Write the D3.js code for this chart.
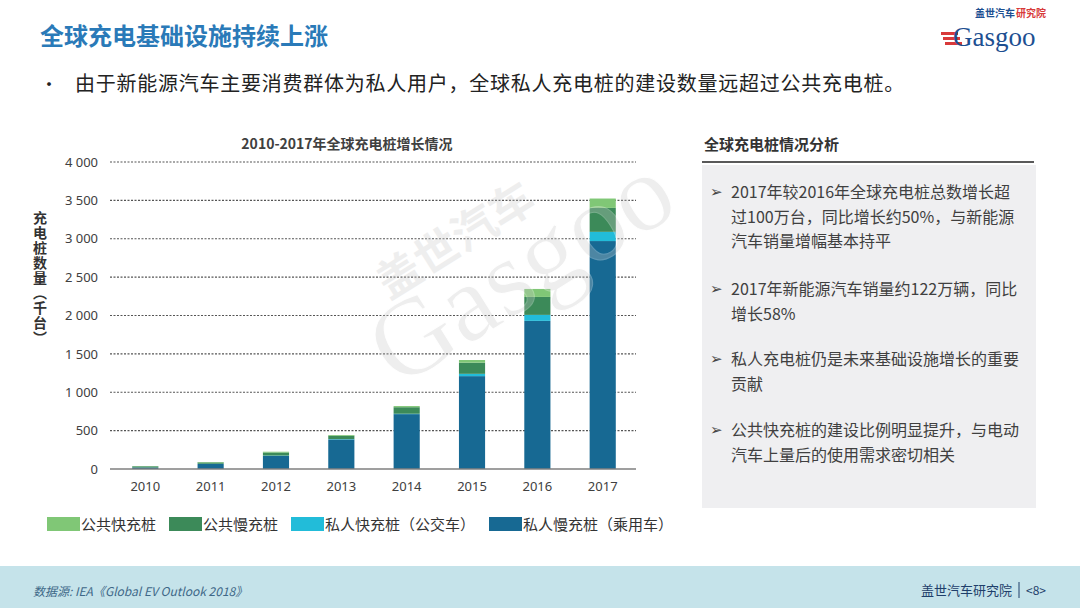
<!DOCTYPE html>
<html>
<head>
<meta charset="utf-8">
<script src="https://cdn.jsdelivr.net/npm/d3@7/dist/d3.min.js"></script>
<style>
  html, body { margin: 0; padding: 0; background: #fff; }
  svg { display: block; font-family: "Noto Sans CJK SC", "Noto Sans", sans-serif; }
</style>
</head>
<body>
<svg id="c" width="1080" height="608"></svg>
<script>
// ---- data (thousand units) ----
const years = ["2010", "2011", "2012", "2013", "2014", "2015", "2016", "2017"];
const privateSlow = [20, 65, 170, 385, 715, 1210, 1930, 2970];
const privateFast = [0, 3, 5, 5, 5, 30, 78, 120];
const publicSlow = [15, 18, 40, 43, 85, 145, 234, 312];
const publicFast = [3, 5, 10, 10, 15, 35, 104, 122];
const seriesNames = ["公共快充桩", "公共慢充桩", "私人快充桩（公交车）", "私人慢充桩（乘用车）"];
const yTicks = [0, 500, 1000, 1500, 2000, 2500, 3000, 3500, 4000];
const bullets = [
  ["2017年较2016年全球充电桩总数增长超", "过100万台，同比增长约50%，与新能源", "汽车销量增幅基本持平"],
  ["2017年新能源汽车销量约122万辆，同比", "增长58%"],
  ["私人充电桩仍是未来基础设施增长的重要", "贡献"],
  ["公共快充桩的建设比例明显提升，与电动", "汽车上量后的使用需求密切相关"]
];

const colors = {
  privateSlow: "#176993",
  privateFast: "#22bcd9",
  publicSlow: "#3c8a59",
  publicFast: "#80c776"
};

const svg = d3.select("#c");

// ---- header ----
svg.append("text").attr("x", 40).attr("y", 45)
  .attr("font-size", 24).attr("font-weight", "bold").attr("fill", "#2a7ab8")
  .text("全球充电基础设施持续上涨");

svg.append("text").attr("x", 40).attr("y", 91).attr("font-size", 18).attr("fill", "#222").text("•");
svg.append("text").attr("x", 75).attr("y", 91).attr("font-size", 20).attr("letter-spacing", 0.75).attr("fill", "#222")
  .text("由于新能源汽车主要消费群体为私人用户，全球私人充电桩的建设数量远超过公共充电桩。");

// logo
const logo = svg.append("g");
[0, 1, 2].forEach(i => {
  logo.append("rect").attr("x", 941 + i * 2).attr("y", 32 + i * 5).attr("width", 17).attr("height", 3).attr("fill", "#d83a3a");
});
logo.append("text").attr("x", 953).attr("y", 46).attr("font-family", "Liberation Serif, serif")
  .attr("font-size", 27).attr("fill", "#1d4f91").text("Gasgoo");
logo.append("text").attr("x", 975).attr("y", 17).attr("font-size", 10).attr("font-weight", "bold").attr("fill", "#1d4f91").text("盖世汽车");
logo.append("text").attr("x", 1016).attr("y", 17).attr("font-size", 10).attr("font-weight", "bold").attr("fill", "#d83a3a").text("研究院");

// ---- chart ----
const x = d3.scaleBand().domain(years).range([110, 638]).paddingInner(0.6).paddingOuter(0.34);
const y = d3.scaleLinear().domain([0, 4000]).range([469, 162]);

svg.append("text").attr("x", 347).attr("y", 149).attr("text-anchor", "middle")
  .attr("font-size", 14).attr("font-weight", "bold").attr("fill", "#404040")
  .text("2010-2017年全球充电桩增长情况");

// grid
const grid = svg.append("g");
yTicks.filter(t => t > 0).forEach(t => {
  grid.append("line").attr("x1", 110).attr("x2", 636).attr("y1", y(t)).attr("y2", y(t))
    .attr("stroke", "#555").attr("stroke-width", 1.2).attr("stroke-dasharray", "2,1.5");
});

// y axis labels
const fmt = v => d3.format(",")(v).replace(/,/g, " ");
const yAxis = d3.axisLeft(y).tickValues(yTicks).tickFormat(fmt).tickSize(0).tickPadding(0);
const yg = svg.append("g").attr("transform", "translate(98,0)").call(yAxis);
yg.select(".domain").remove();
yg.selectAll("text").attr("font-size", 13).attr("fill", "#404040").attr("font-family", "Noto Sans, sans-serif");

// y title vertical (one text, vertical writing mode)
svg.append("text").attr("x", 40).attr("y", 211)
  .style("writing-mode", "vertical-rl").style("text-orientation", "upright")
  .attr("font-size", 14).attr("font-weight", "bold").attr("letter-spacing", 1).attr("fill", "#333")
  .text("充电桩数量（千台）");

// stacked bars
const keys = ["privateSlow", "privateFast", "publicSlow", "publicFast"];
const rows = years.map((yr, i) => ({
  year: yr,
  privateSlow: privateSlow[i],
  privateFast: privateFast[i],
  publicSlow: publicSlow[i],
  publicFast: publicFast[i]
}));
const stack = d3.stack().keys(keys)(rows);
const barsG = svg.append("g");
stack.forEach(layer => {
  barsG.selectAll(null).data(layer).enter().append("rect")
    .attr("x", d => x(d.data.year))
    .attr("width", x.bandwidth())
    .attr("y", d => y(d[1]))
    .attr("height", d => y(d[0]) - y(d[1]))
    .attr("fill", colors[layer.key]);
});

// baseline
svg.append("line").attr("x1", 110).attr("x2", 636).attr("y1", y(0)).attr("y2", y(0))
  .attr("stroke", "#7f7f7f").attr("stroke-width", 1.5);

// x labels
const xAxis = d3.axisBottom(x).tickSize(0).tickPadding(0);
const xg = svg.append("g").attr("transform", `translate(0,${y(0) + 13})`).call(xAxis);
xg.select(".domain").remove();
xg.selectAll("text").attr("font-size", 13).attr("fill", "#404040").attr("font-family", "Noto Sans, sans-serif");

// watermark
const wm = svg.append("g").attr("transform", "translate(540,300) rotate(-32)").attr("opacity", 0.3);
wm.append("text").attr("x", 0).attr("y", 0).attr("text-anchor", "middle")
  .attr("font-family", "Liberation Serif, serif").attr("font-size", 110)
  .attr("fill", "#c9c9c9").attr("stroke", "#fff").attr("stroke-width", 1).text("Gasgoo");
wm.append("text").attr("x", -40).attr("y", -80).attr("text-anchor", "middle")
  .attr("font-size", 44).attr("font-weight", "bold").attr("fill", "#c9c9c9").text("盖世汽车");

// legend
const legendColors = [colors.publicFast, colors.publicSlow, colors.privateFast, colors.privateSlow];
const legendX = [47, 169, 291, 489];
const lg = svg.append("g");
seriesNames.forEach((name, i) => {
  lg.append("rect").attr("x", legendX[i]).attr("y", 517).attr("width", 33).attr("height", 14).attr("fill", legendColors[i]);
  lg.append("text").attr("x", legendX[i] + 34).attr("y", 530).attr("font-size", 15).attr("fill", "#333").text(name);
});

// ---- right panel ----
svg.append("text").attr("x", 704).attr("y", 150).attr("font-size", 15).attr("font-weight", "bold").attr("fill", "#333")
  .text("全球充电桩情况分析");
svg.append("line").attr("x1", 702).attr("x2", 1034).attr("y1", 162).attr("y2", 162).attr("stroke", "#595959").attr("stroke-width", 2);
svg.append("rect").attr("x", 702).attr("y", 165).attr("width", 334).attr("height", 343).attr("fill", "#efeff1");

const bulletStarts = [198, 295, 365, 436];
const rp = svg.append("g");
bullets.forEach((lines, bi) => {
  rp.append("text").attr("x", 710).attr("y", bulletStarts[bi] - 1).attr("font-size", 15).attr("fill", "#444")
    .attr("font-family", "DejaVu Sans, sans-serif").text("➢");
  lines.forEach((ln, li) => {
    rp.append("text").attr("x", 731).attr("y", bulletStarts[bi] + li * 24.5)
      .attr("font-size", 16).attr("fill", "#404040").text(ln);
  });
});

// ---- footer ----
svg.append("rect").attr("x", 0).attr("y", 566).attr("width", 1080).attr("height", 42).attr("fill", "#c5e3ea");
svg.append("text").attr("x", 33).attr("y", 596).attr("font-size", 12).attr("font-style", "italic").attr("fill", "#3e6888")
  .text("数据源: IEA《Global EV Outlook 2018》");
svg.append("text").attr("x", 1012).attr("y", 595).attr("text-anchor", "end").attr("font-size", 13).attr("fill", "#1f3f6b")
  .text("盖世汽车研究院");
svg.append("line").attr("x1", 1019).attr("x2", 1019).attr("y1", 582).attr("y2", 598).attr("stroke", "#1f3f6b").attr("stroke-width", 1);
svg.append("text").attr("x", 1026).attr("y", 595).attr("font-size", 12).attr("fill", "#1f3f6b").text("<8>");
</script>
</body>
</html>
